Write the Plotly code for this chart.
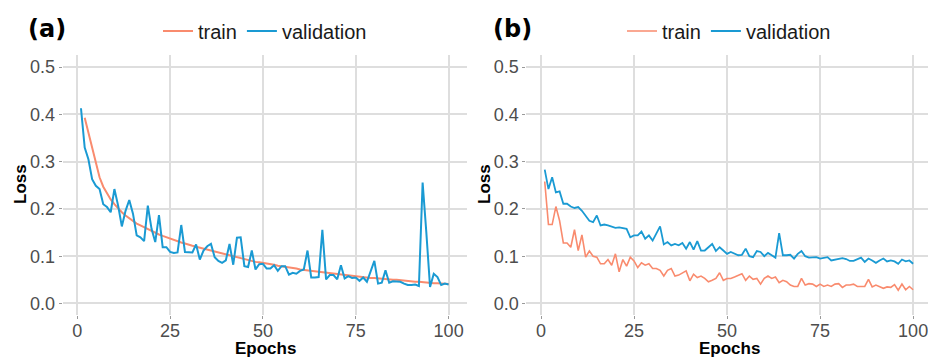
import plotly.graph_objects as go

epochs = list(range(1, 101))
train_a_epochs = list(range(2, 101))

val_a = [0.413, 0.330, 0.305, 0.263, 0.249, 0.242, 0.210, 0.204, 0.193, 0.242,
         0.207, 0.163, 0.196, 0.219, 0.190, 0.144, 0.140, 0.132, 0.207, 0.158,
         0.130, 0.187, 0.119, 0.119, 0.109, 0.107, 0.108, 0.166, 0.109, 0.109,
         0.108, 0.125, 0.093, 0.112, 0.121, 0.126, 0.098, 0.090, 0.086, 0.091,
         0.126, 0.082, 0.139, 0.140, 0.079, 0.077, 0.112, 0.072, 0.083, 0.084,
         0.074, 0.074, 0.081, 0.069, 0.079, 0.079, 0.061, 0.065, 0.063, 0.069,
         0.072, 0.112, 0.055, 0.055, 0.056, 0.156, 0.051, 0.060, 0.060, 0.051,
         0.081, 0.053, 0.058, 0.054, 0.055, 0.048, 0.055, 0.046, 0.070, 0.090,
         0.042, 0.044, 0.070, 0.044, 0.047, 0.047, 0.046, 0.042, 0.039, 0.039,
         0.040, 0.037, 0.256, 0.150, 0.035, 0.063, 0.056, 0.039, 0.042, 0.040]

train_a = [0.393, 0.360, 0.328, 0.295, 0.267, 0.247, 0.232, 0.220, 0.210,
           0.201, 0.193, 0.186, 0.180, 0.174, 0.169, 0.165, 0.161, 0.157, 0.153,
           0.150, 0.146, 0.143, 0.140, 0.137, 0.134, 0.132, 0.129, 0.127, 0.124,
           0.122, 0.120, 0.118, 0.116, 0.114, 0.112, 0.110, 0.107, 0.105, 0.103,
           0.101, 0.099, 0.097, 0.095, 0.093, 0.091, 0.089, 0.088, 0.087, 0.086,
           0.085, 0.083, 0.082, 0.080, 0.079, 0.078, 0.076, 0.075, 0.074, 0.072,
           0.071, 0.070, 0.069, 0.068, 0.067, 0.066, 0.065, 0.064, 0.063, 0.062,
           0.061, 0.060, 0.059, 0.058, 0.057, 0.056, 0.056, 0.055, 0.054, 0.054,
           0.053, 0.052, 0.052, 0.051, 0.050, 0.050, 0.049, 0.048, 0.048, 0.047,
           0.046, 0.046, 0.045, 0.045, 0.044, 0.043, 0.043, 0.042, 0.042, 0.041]

val_b = [0.283, 0.242, 0.267, 0.235, 0.237, 0.211, 0.211, 0.205, 0.202, 0.204,
         0.196, 0.186, 0.175, 0.172, 0.186, 0.165, 0.167, 0.165, 0.163, 0.160,
         0.161, 0.160, 0.158, 0.140, 0.144, 0.144, 0.152, 0.137, 0.144, 0.133,
         0.147, 0.163, 0.125, 0.130, 0.123, 0.126, 0.123, 0.128, 0.116, 0.130,
         0.114, 0.132, 0.112, 0.112, 0.119, 0.126, 0.111, 0.119, 0.112, 0.105,
         0.109, 0.105, 0.102, 0.103, 0.116, 0.100, 0.098, 0.111, 0.109, 0.100,
         0.107, 0.102, 0.097, 0.149, 0.102, 0.102, 0.103, 0.095, 0.105, 0.111,
         0.100, 0.097, 0.097, 0.098, 0.095, 0.097, 0.098, 0.091, 0.093, 0.095,
         0.096, 0.094, 0.090, 0.090, 0.093, 0.097, 0.088, 0.095, 0.091, 0.086,
         0.091, 0.095, 0.089, 0.091, 0.089, 0.084, 0.093, 0.089, 0.091, 0.084]

train_b = [0.258, 0.167, 0.167, 0.205, 0.175, 0.128, 0.128, 0.119, 0.156, 0.112,
           0.145, 0.098, 0.111, 0.100, 0.098, 0.084, 0.084, 0.093, 0.081, 0.105,
           0.067, 0.093, 0.079, 0.098, 0.090, 0.076, 0.086, 0.081, 0.084, 0.074,
           0.074, 0.070, 0.058, 0.070, 0.074, 0.058, 0.060, 0.065, 0.069, 0.048,
           0.062, 0.055, 0.058, 0.053, 0.046, 0.049, 0.053, 0.065, 0.049, 0.053,
           0.053, 0.056, 0.060, 0.063, 0.049, 0.058, 0.051, 0.053, 0.041, 0.053,
           0.058, 0.053, 0.056, 0.044, 0.049, 0.046, 0.039, 0.036, 0.036, 0.053,
           0.039, 0.042, 0.041, 0.036, 0.041, 0.036, 0.039, 0.036, 0.041, 0.042,
           0.034, 0.039, 0.039, 0.041, 0.036, 0.036, 0.036, 0.051, 0.035, 0.039,
           0.036, 0.032, 0.035, 0.034, 0.040, 0.028, 0.041, 0.029, 0.036, 0.029]

y_ticks = [0.0, 0.1, 0.2, 0.3, 0.4, 0.5]
x_ticks = [0, 25, 50, 75, 100]

TRAIN = "#F98B6E"
VAL = "#1A9AD3"
W, H = 928, 358

fig = go.Figure()
fig.add_trace(go.Scatter(x=train_a_epochs, y=train_a, mode="lines", name="train",
                         line=dict(color=TRAIN, width=2), xaxis="x", yaxis="y",
                         legend="legend"))
fig.add_trace(go.Scatter(x=epochs, y=val_a, mode="lines", name="validation",
                         line=dict(color=VAL, width=2), xaxis="x", yaxis="y",
                         legend="legend"))
fig.add_trace(go.Scatter(x=epochs, y=train_b, mode="lines", name="train",
                         line=dict(color=TRAIN, width=1.6), xaxis="x2", yaxis="y2",
                         legend="legend2"))
fig.add_trace(go.Scatter(x=epochs, y=val_b, mode="lines", name="validation",
                         line=dict(color=VAL, width=1.8), xaxis="x2", yaxis="y2",
                         legend="legend2"))

tick_font = dict(family="Liberation Sans, Arial, sans-serif", size=18, color="#4d4d4d")
grid = "#dedede"

def xax(domain, rng, anchor):
    return dict(domain=domain, range=rng, tickvals=x_ticks, showgrid=True,
                gridcolor=grid, gridwidth=1.5, zeroline=False, showline=False,
                ticks="outside", ticklen=3, tickcolor="#9a9a9a", tickwidth=1,
                tickfont=tick_font, anchor=anchor, ticklabeloverflow="allow",
                ticklabelstandoff=-4)

def yax(anchor):
    return dict(domain=[(H - 315.3) / H, (H - 55.3) / H], range=[-0.025, 0.525],
                tickvals=y_ticks, tickformat=".1f", showgrid=True, gridcolor=grid,
                gridwidth=1.5, zeroline=False, showline=False, ticks="outside",
                ticklen=3, tickcolor="#9a9a9a", tickwidth=1, tickfont=tick_font,
                anchor=anchor)

legend_font = dict(family="Liberation Sans, Arial, sans-serif", size=20, color="#1a1a1a")

fig.update_layout(
    width=W, height=H,
    margin=dict(l=0, r=0, t=0, b=0),
    paper_bgcolor="white", plot_bgcolor="white",
    xaxis=xax([62.6 / W, 467 / W], [-3.95, 104.95], "y"),
    yaxis=yax("x"),
    xaxis2=xax([526.3 / W, 1.0], [-3.95, 104.0], "y2"),
    yaxis2=yax("x2"),
    legend=dict(orientation="h", x=265 / W, xanchor="center", y=1 - 31 / H,
                yanchor="middle", font=legend_font, bgcolor="rgba(0,0,0,0)",
                itemwidth=30, tracegroupgap=0),
    legend2=dict(orientation="h", x=729 / W, xanchor="center", y=1 - 31 / H,
                 yanchor="middle", font=legend_font, bgcolor="rgba(0,0,0,0)",
                 itemwidth=30, tracegroupgap=0),
    showlegend=True,
)

title_font = dict(family="Liberation Sans, Arial, sans-serif", size=17, color="black")
label_font = dict(family="DejaVu Sans, sans-serif", size=24, color="black")
ann = []
for cx_label, cx_title, cx_loss, lab in [(47, 265, 20, "(a)"), (512, 729, 484, "(b)")]:
    ann.append(dict(text="<b>%s</b>" % lab, x=cx_label / W, y=1 - 29 / H,
                    xref="paper", yref="paper", showarrow=False, font=label_font,
                    xanchor="center", yanchor="middle"))
    ann.append(dict(text="<b>Epochs</b>", x=cx_title / W, y=1 - 348 / H,
                    xref="paper", yref="paper", showarrow=False, font=title_font,
                    xanchor="center", yanchor="middle"))
    ann.append(dict(text="<b>Loss</b>", x=cx_loss / W, y=1 - 184 / H,
                    xref="paper", yref="paper", showarrow=False, font=title_font,
                    textangle=-90, xanchor="center", yanchor="middle"))
fig.update_layout(annotations=ann)

fig.write_html("out.html", config={"displayModeBar": False},
               post_script="document.body.style.margin='0';document.body.style.padding='0';document.body.style.overflow='hidden';")
